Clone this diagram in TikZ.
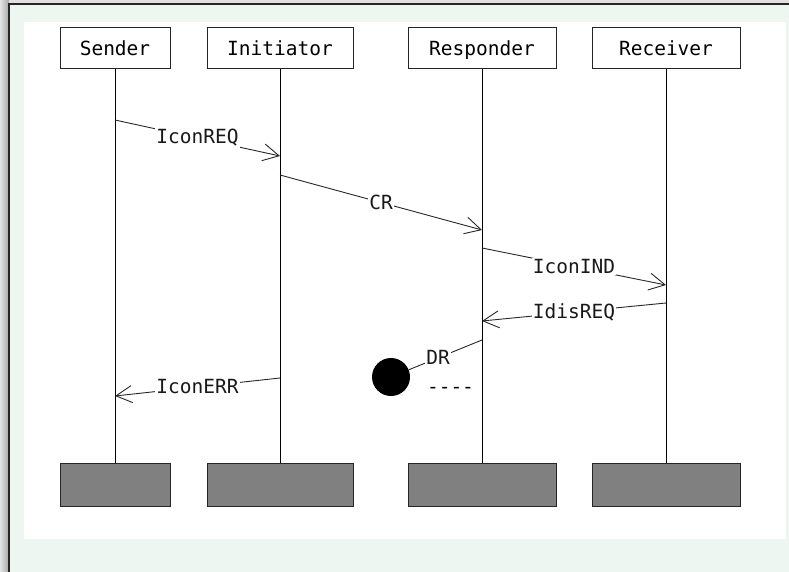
\documentclass[tikz,border=0pt]{standalone}
\usepackage{fontspec}
\setmonofont{DejaVu Sans Mono}
\usetikzlibrary{arrows.meta}
\definecolor{bgtint}{RGB}{237,246,241}
\definecolor{footgray}{RGB}{128,128,128}
\definecolor{msggray}{RGB}{40,40,40}
\tikzset{
  headbox/.style={draw=black!85, line width=1pt, fill=white, minimum height=41pt, inner sep=0pt,
    text height=14.2pt, text depth=0pt,
    font=\ttfamily\fontsize{19.5}{22}\selectfont},
  footbox/.style={draw=black!85, line width=1pt, fill=footgray, minimum height=43pt, inner sep=0pt},
  lifeline/.style={draw=black, line width=1pt},
  msg/.style={draw=msggray, line width=0.9pt, -{Straight Barb[length=16pt,width=17pt,line width=0.9pt]}},
  msglabel/.style={fill=white, inner sep=1pt, font=\ttfamily\fontsize{19.5}{22}\selectfont, text=black!90},
  plaintext/.style={inner sep=0pt, font=\ttfamily\fontsize{19.5}{22}\selectfont}
}
\begin{document}
\begin{tikzpicture}[x=1pt,y=-1pt]
\useasboundingbox (0,0) rectangle (789,572);
% background
\fill[bgtint] (0,0) rectangle (789,572);
\shade[left color=black!10, right color=black!35] (0,0) rectangle (9,572);
\fill[black!12] (9,0) rectangle (789,4);
\fill[white] (24,22) rectangle (786,539);
\draw[line width=2pt, black!85] (9,572) -- (9,4) -- (789,4);
% heads
\node[headbox, minimum width=110pt] (snd) at (115,48.5) {Sender};
\node[headbox, minimum width=146pt] (ini) at (280,48.5) {Initiator};
\node[headbox, minimum width=148pt] (rsp) at (482,48.5) {Responder};
\node[headbox, minimum width=148pt] (rcv) at (666,48.5) {Receiver};
% feet
\node[footbox, minimum width=110pt] (sndf) at (115,484.5) {};
\node[footbox, minimum width=146pt] (inif) at (280,484.5) {};
\node[footbox, minimum width=148pt] (rspf) at (482,484.5) {};
\node[footbox, minimum width=148pt] (rcvf) at (666,484.5) {};
% lifelines
\draw[lifeline] (snd.south) -- (sndf.north);
\draw[lifeline] (ini.south) -- (inif.north);
\draw[lifeline] (rsp.south) -- (rspf.north);
\draw[lifeline] (rcv.south) -- (rcvf.north);
% message endpoints
\coordinate (m1a) at (115,120);
\coordinate (m1b) at (280,156);
\coordinate (m2a) at (280,175);
\coordinate (m2b) at (482,230);
\coordinate (m3a) at (482,248);
\coordinate (m3b) at (666,285);
\coordinate (m4a) at (666,303);
\coordinate (m4b) at (482,321);
\coordinate (m5a) at (482,340);
\coordinate (m6a) at (280,378);
\coordinate (m6b) at (115,396);
% lost message circle
\node[circle, fill=black, minimum size=38pt, inner sep=0pt] (lost) at (391,377) {};
% messages
\draw[msg] (m1a) -- node[msglabel] {IconREQ} (m1b);
\draw[msg] (m2a) -- node[msglabel] {CR} (m2b);
\draw[msg] (m3a) -- node[msglabel] {IconIND} (m3b);
\draw[msg] (m4a) -- node[msglabel] {IdisREQ} (m4b);
\draw[draw=msggray, line width=0.9pt] (m5a) -- node[msglabel, pos=0.6] {DR} (lost);
\draw[msg] (m6a) -- node[msglabel] {IconERR} (m6b);
\node[plaintext, anchor=base] (dashes) at (450.5,393) {----};
\end{tikzpicture}
\end{document}
